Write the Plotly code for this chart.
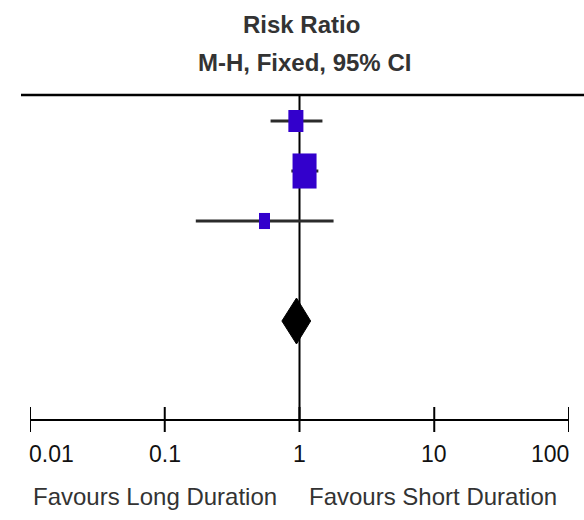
import math
import plotly.graph_objects as go

# ---- data ----
studies = ["Study 1", "Study 2", "Study 3"]
row_order = [0, 1, 2]
rr = [0.94, 1.09, 0.55]
ci_low = [0.61, 0.87, 0.17]
ci_high = [1.48, 1.38, 1.79]
weights = [24.5, 62.4, 13.1]

pooled_row = 4
pooled_rr = 0.95
pooled_low = 0.74
pooled_high = 1.21

tick_vals = [0.01, 0.1, 1, 10, 100]
tick_text = ["0.01", "0.1", "1", "10", "100"]

title_lines = ["Risk Ratio", "M-H, Fixed, 95% CI"]
favours_left = "Favours Long Duration"
favours_right = "Favours Short Duration"

# ---- style ----
FONT = "Liberation Sans, Arial, sans-serif"
SQ_COLOR = "rgb(51,0,204)"
LINE_COLOR = "#2b2b2b"

W, H = 584, 520
ML, MR, MT, MB = 30, 15, 95, 101
X_RANGE = [-2, 2]
px_per_decade = (W - ML - MR) / (X_RANGE[1] - X_RANGE[0])

fig = go.Figure()

# CI lines
for i in range(len(studies)):
    fig.add_trace(go.Scatter(
        x=[ci_low[i], ci_high[i]], y=[row_order[i], row_order[i]],
        mode="lines", line=dict(color=LINE_COLOR, width=3),
        hoverinfo="skip", showlegend=False))

# pooled diamond
dh = 0.46
fig.add_trace(go.Scatter(
    x=[pooled_low, pooled_rr, pooled_high, pooled_rr, pooled_low],
    y=[pooled_row, pooled_row - dh, pooled_row, pooled_row + dh, pooled_row],
    mode="lines", fill="toself", fillcolor="black",
    line=dict(color="black", width=1), hoverinfo="skip", showlegend=False))

shapes = []
# line of no effect
shapes.append(dict(type="line", xref="x", yref="paper", x0=1, x1=1, y0=0, y1=1,
                   line=dict(color="black", width=2), layer="below"))
# top rule
shapes.append(dict(type="line", xref="paper", yref="paper", x0=-0.0167, x1=1.028,
                   y0=1, y1=1, line=dict(color="black", width=2.5), layer="above"))
# squares sized by weight
for i in range(len(studies)):
    w = 3.04 * math.sqrt(weights[i])
    h = 1.46 * w
    f = 10 ** ((w / 2) / px_per_decade)
    shapes.append(dict(type="rect", xref="x", yref="y", ysizemode="pixel",
                       yanchor=row_order[i],
                       x0=rr[i] / f, x1=rr[i] * f, y0=-h / 2, y1=h / 2,
                       fillcolor=SQ_COLOR, line=dict(width=0), layer="above"))
# axis ticks (both sides of axis line)
for tv in tick_vals:
    shapes.append(dict(type="line", xref="x", yref="paper", ysizemode="pixel",
                       yanchor=0, x0=tv, x1=tv, y0=-13, y1=12,
                       line=dict(color="black", width=2), layer="above"))

annotations = []
n = len(tick_vals)
for k, (tv, tt) in enumerate(zip(tick_vals, tick_text)):
    anchor = "left" if k == 0 else ("right" if k == n - 1 else "center")
    annotations.append(dict(x=math.log10(tv), xref="x", y=0, yref="paper",
                            text=tt, showarrow=False, xanchor=anchor, yanchor="middle",
                            yshift=-35, xshift=(-3 if k == 0 else (2 if k == n - 1 else 0)),
                            font=dict(family=FONT, size=23, color="#111")))
annotations.append(dict(x=0, xref="x", y=0, yref="paper", text=favours_left,
                        showarrow=False, xanchor="right", yanchor="middle",
                        xshift=-21, yshift=-77, font=dict(family=FONT, size=24, color="#333")))
annotations.append(dict(x=0, xref="x", y=0, yref="paper", text=favours_right,
                        showarrow=False, xanchor="left", yanchor="middle",
                        xshift=7, yshift=-77, font=dict(family=FONT, size=24, color="#333")))
annotations.append(dict(x=0.503, xref="paper", y=1, yref="paper", text="<b>" + title_lines[0] + "</b>",
                        showarrow=False, xanchor="center", yanchor="middle",
                        yshift=MT - 24, font=dict(family=FONT, size=24, color="#333")))
annotations.append(dict(x=0.51, xref="paper", y=1, yref="paper", text="<b>" + title_lines[1] + "</b>",
                        showarrow=False, xanchor="center", yanchor="middle",
                        yshift=MT - 62, font=dict(family=FONT, size=24, color="#333")))

fig.update_layout(
    width=W, height=H,
    margin=dict(l=ML, r=MR, t=MT, b=MB),
    plot_bgcolor="white", paper_bgcolor="white",
    shapes=shapes, annotations=annotations,
    xaxis=dict(type="log", range=X_RANGE, showgrid=False, zeroline=False,
               showline=True, linecolor="black", linewidth=2,
               showticklabels=False, ticks=""),
    yaxis=dict(range=[5.96, -0.52], visible=False, showgrid=False, zeroline=False),
)

fig.write_html("out.html")
